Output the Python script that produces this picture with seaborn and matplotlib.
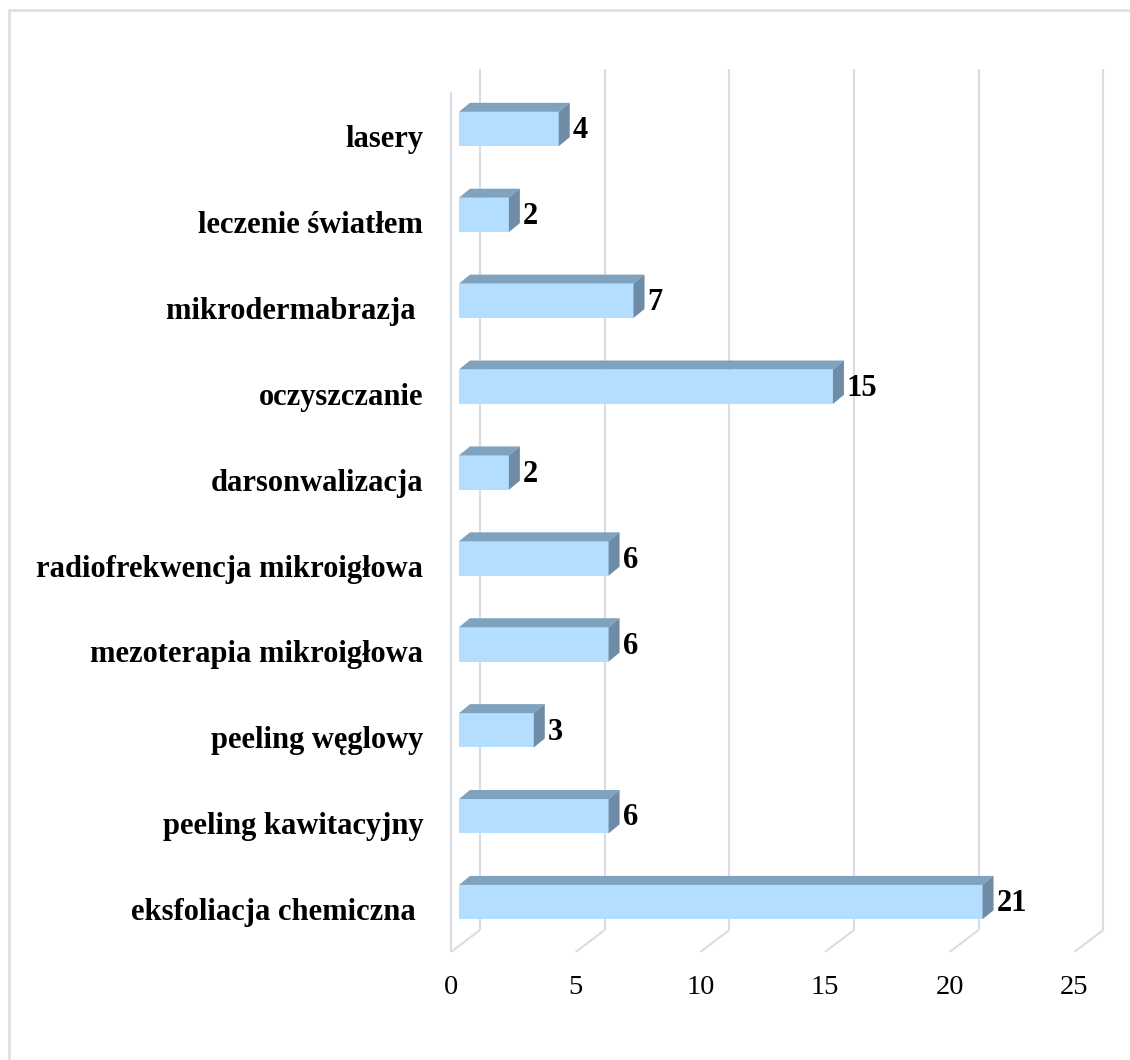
import matplotlib
matplotlib.use("Agg")
import matplotlib.pyplot as plt
from matplotlib.patches import Polygon
from matplotlib.lines import Line2D
import seaborn as sns
import pandas as pd

# Data
categories = [
    "lasery",
    "leczenie światłem",
    "mikrodermabrazja ",
    "oczyszczanie",
    "darsonwalizacja",
    "radiofrekwencja mikroigłowa",
    "mezoterapia mikroigłowa",
    "peeling węglowy",
    "peeling kawitacyjny",
    "eksfoliacja chemiczna ",
]
counts = [4, 2, 7, 15, 2, 6, 6, 3, 6, 21]
x_ticks = [0, 5, 10, 15, 20, 25]

FRONT = "#B3DEFF"
TOP = "#7FA2BE"
SIDE = "#6E8CA6"
GRID = "#D9DCE5"

sns.set_style("white")
plt.rcParams["font.family"] = ["Liberation Serif", "DejaVu Serif"]
plt.rcParams["text.color"] = "black"
plt.rcParams["xtick.color"] = "black"
plt.rcParams["ytick.color"] = "black"

W, H = 1130, 1060
fig = plt.figure(figsize=(W / 100, H / 100), dpi=100)

# Axes placed in pixel space; data origin and scales chosen for the 3D look
px_per_unit_x = 24.93
px_per_cat = 85.9
x0_px, y0_px = 459.0, 129.0
ax_left, ax_right, ax_top, ax_bottom = 440, 1115, 55, 960
ax = fig.add_axes([ax_left / W, 1 - ax_bottom / H,
                   (ax_right - ax_left) / W, (ax_bottom - ax_top) / H])

df = pd.DataFrame({"kategoria": categories, "liczba": counts})
sns.barplot(data=df, x="liczba", y="kategoria", orient="h", color=FRONT,
            saturation=1, width=0.4, linewidth=0, ax=ax, zorder=3)

ax.set_xlim((ax_left - x0_px) / px_per_unit_x, (ax_right - x0_px) / px_per_unit_x)
ax.set_ylim((ax_bottom - y0_px) / px_per_cat, (ax_top - y0_px) / px_per_cat)

# depth of the 3D extrusion in data units
dx = 11 / px_per_unit_x
dy = -9 / px_per_cat

# back wall / floor gridlines
back_off = (480 - x0_px) / px_per_unit_x
front_off = (451 - x0_px) / px_per_unit_x
y_back_top = (69 - y0_px) / px_per_cat
y_back_bot = (930 - y0_px) / px_per_cat
y_front_bot = (952 - y0_px) / px_per_cat
y_front_top = (92 - y0_px) / px_per_cat
for v in x_ticks:
    ax.plot([v + back_off, v + back_off], [y_back_top, y_back_bot],
            color=GRID, lw=1.5, zorder=1, solid_capstyle="butt")
    ax.plot([v + back_off, v + front_off], [y_back_bot, y_front_bot],
            color=GRID, lw=1.5, zorder=1, solid_capstyle="butt")
ax.plot([front_off, front_off], [y_front_top, y_front_bot],
        color=GRID, lw=1.5, zorder=1, solid_capstyle="butt")

# top and side faces of each bar, plus value labels
for patch, val in zip(ax.patches, counts):
    bx0 = patch.get_x()
    bx1 = bx0 + patch.get_width()
    yt = patch.get_y()
    yb = yt + patch.get_height()
    top = Polygon([(bx0, yt), (bx0 + dx, yt + dy), (bx1 + dx, yt + dy), (bx1, yt)],
                  closed=True, facecolor=TOP, edgecolor="none", zorder=3)
    side = Polygon([(bx1, yt), (bx1 + dx, yt + dy), (bx1 + dx, yb + dy), (bx1, yb)],
                   closed=True, facecolor=SIDE, edgecolor="none", zorder=3)
    ax.add_patch(top)
    ax.add_patch(side)
    ax.text(bx1 + dx + 3 / px_per_unit_x, (yt + yb) / 2 + 0.02, f"{val}",
            ha="left", va="center", fontsize=22, fontweight="bold", color="black",
            zorder=4)

# axis labels
ax.set_xlabel("")
ax.set_ylabel("")
ax.set_xticks([v + front_off for v in x_ticks])
ax.set_xticklabels([str(v) for v in x_ticks], fontsize=20.5)
ax.tick_params(axis="x", length=0, pad=11)
label_shift = 7 / px_per_cat
ax.set_yticks([i + label_shift for i in range(len(categories))])
ax.set_yticklabels(categories, fontsize=22, fontweight="bold")
ax.tick_params(axis="y", length=0, pad=12)
for s in ax.spines.values():
    s.set_visible(False)
ax.set_facecolor("none")

# outer frame (left and top edges)
fig.add_artist(Line2D([9 / W, 9 / W], [0, 1 - 10 / H], transform=fig.transFigure,
                      color="#DADDE3", lw=1.8))
fig.add_artist(Line2D([9 / W, 1], [1 - 10 / H, 1 - 10 / H], transform=fig.transFigure,
                      color="#DADDE3", lw=1.8))

fig.savefig("out.png", dpi=100, facecolor="white")
